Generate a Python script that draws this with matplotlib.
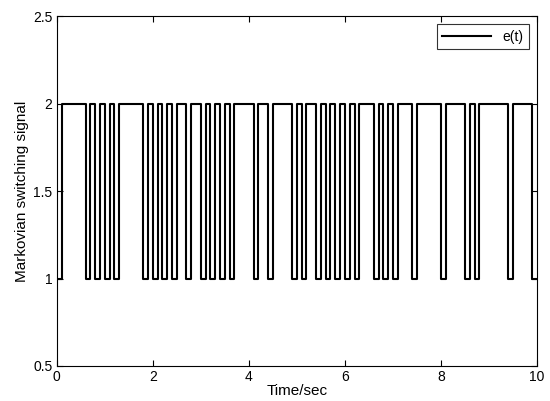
import matplotlib
matplotlib.use("Agg")
import matplotlib.pyplot as plt
import numpy as np

plt.rcParams['font.family'] = ['Liberation Sans', 'DejaVu Sans']

# Markov switching signal sampled every 0.1 s (state in each interval)
dt = 0.1
states = [1, 2, 2, 2, 2, 2, 1, 2, 1, 2,
          1, 2, 1, 2, 2, 2, 2, 2, 1, 2,
          1, 2, 1, 2, 1, 2, 2, 1, 2, 2,
          1, 2, 1, 2, 1, 2, 1, 2, 2, 2,
          2, 1, 2, 2, 1, 2, 2, 2, 2, 1,
          2, 1, 2, 2, 1, 2, 1, 2, 1, 2,
          1, 2, 1, 2, 2, 2, 1, 2, 1, 2,
          1, 2, 2, 2, 1, 2, 2, 2, 2, 2,
          1, 2, 2, 2, 2, 1, 2, 1, 2, 2,
          2, 2, 2, 2, 1, 2, 2, 2, 2, 1]

t = np.arange(len(states) + 1) * dt
y = states + [states[-1]]

fig = plt.figure(figsize=(5.5, 4.01), dpi=100)
ax = fig.add_axes([0.1031, 0.0873, 0.8733, 0.8727])
ax.step(t, y, where='post', color='black', lw=1.5, label='e(t)')
ax.set_xlim(0, 10)
ax.set_ylim(0.5, 2.5)
ax.set_xticks([0, 2, 4, 6, 8, 10])
ax.set_yticks([0.5, 1, 1.5, 2, 2.5])
ax.set_yticklabels(['0.5', '1', '1.5', '2', '2.5'])
ax.tick_params(direction='in', top=True, right=True, labelsize=10, length=4, pad=3)
ax.set_xlabel('Time/sec', fontsize=11, labelpad=0)
ax.set_ylabel('Markovian switching signal', fontsize=11, labelpad=3)
leg = ax.legend(loc='upper right', fontsize=10, frameon=True, fancybox=False,
                edgecolor='black', handlelength=3.5, borderaxespad=0.6)
leg.get_frame().set_linewidth(0.8)
fig.savefig('out.png', dpi=100)
